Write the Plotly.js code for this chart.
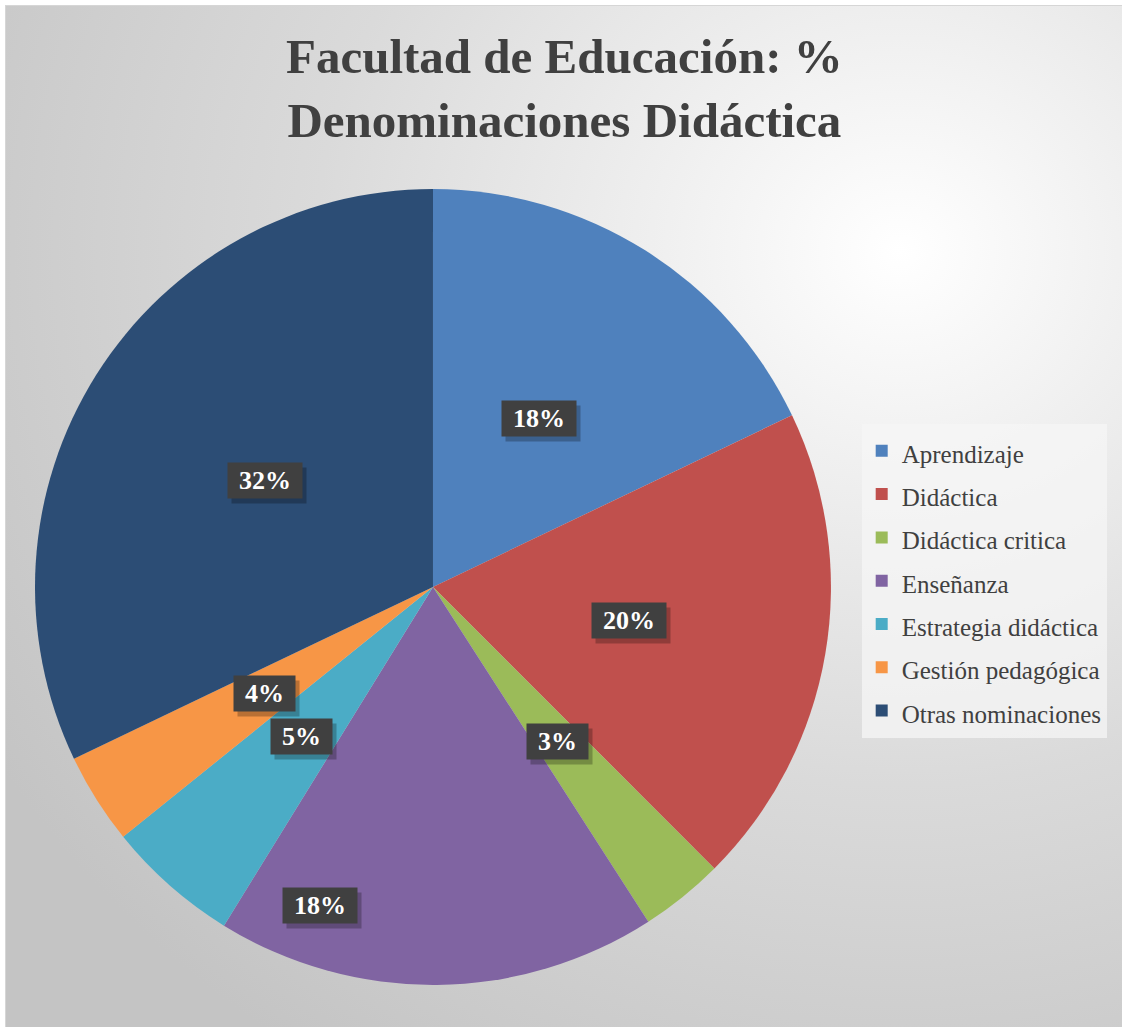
<!DOCTYPE html>
<html>
<head>
<meta charset="utf-8">
<script src="https://cdn.plot.ly/plotly-3.0.1.min.js"></script>
<style>
  html, body { margin: 0; padding: 0; background: #ffffff; }
  #bg {
    position: absolute; left: 5px; top: 5px; width: 1117px; height: 1022px;
    border-left: 1px solid #d6d6d6; border-top: 1px solid #d6d6d6;
    background: radial-gradient(ellipse 95% 95% at 80% 24%, #ffffff 0%, #f0f0f0 22%, #dadada 55%, #c4c4c4 100%);
  }
  #chart { position: absolute; left: 0; top: 0; width: 1122px; height: 1027px; }
</style>
</head>
<body>
<div id="bg"></div>
<div id="chart"></div>
<script>
// Data
const categories = ["Aprendizaje", "Didáctica", "Didáctica critica", "Enseñanza",
                    "Estrategia didáctica", "Gestión pedagógica", "Otras nominaciones"];
const values = [17.9, 19.6, 3.4, 17.9, 5.4, 3.7, 32.1];
const sliceColors = ["#4f81bd", "#c0504d", "#9bbb59", "#8064a2", "#4bacc6", "#f79646", "#2c4d75"];

// Label placement style (fraction along slice angle, fraction of radius); default mid / half radius
const labelPlacement = { "Enseñanza": { along: 0.81, radius: 0.85 } };

const W = 1122, H = 1027;
const domX = [0.0312, 0.7406];
const domY = [0.0409, 0.816];

const legendLabels = categories.map(c => "<span style='font-size:25px'>" + c + "</span>");

const trace = {
  type: "pie",
  labels: legendLabels,
  values: values,
  sort: false,
  direction: "clockwise",
  rotation: 0,
  marker: { colors: sliceColors, line: { width: 0 } },
  textinfo: "none",
  hoverinfo: "label+percent",
  domain: { x: domX, y: domY },
  showlegend: true
};

// Data labels placed along each slice (angles derived from values)
const total = values.reduce((a, b) => a + b, 0);
const cxPx = (domX[0] + domX[1]) / 2 * W;
const cyPx = (1 - (domY[0] + domY[1]) / 2) * H;
const R = Math.min((domX[1] - domX[0]) * W, (domY[1] - domY[0]) * H) / 2;
const annotations = [];
let cum = 0;
values.forEach((v, i) => {
  const pl = labelPlacement[categories[i]] || { along: 0.5, radius: 0.5 };
  const ang = (cum + v * pl.along) / total * 2 * Math.PI;
  cum += v;
  const px = cxPx + pl.radius * R * Math.sin(ang);
  const py = cyPx - pl.radius * R * Math.cos(ang);
  const txt = Math.round(v / total * 100) + "%";
  const common = {
    xref: "paper", yref: "paper", x: px / W, y: 1 - py / H,
    xanchor: "center", yanchor: "middle",
    showarrow: false, borderpad: 3, width: 13 * (txt.length - 1) + 42, height: 29,
    font: { family: "Liberation Serif, DejaVu Serif, serif", size: 26, weight: "bold" }
  };
  annotations.push(Object.assign({}, common, {
    text: " ", bgcolor: "rgba(0,0,0,0.25)", font: Object.assign({}, common.font, { color: "rgba(0,0,0,0)" }),
    xshift: 4, yshift: -5
  }));
  annotations.push(Object.assign({}, common, {
    text: txt, bgcolor: "#404040", font: Object.assign({}, common.font, { color: "#ffffff" })
  }));
});

const layout = {
  width: W, height: H,
  margin: { l: 0, r: 0, t: 0, b: 0 },
  paper_bgcolor: "rgba(0,0,0,0)",
  plot_bgcolor: "rgba(0,0,0,0)",
  title: {
    text: "Facultad de Educación: %<br>Denominaciones Didáctica",
    font: { family: "Liberation Serif, DejaVu Serif, serif", size: 49, weight: "bold", color: "#404040" },
    x: 0.503, xanchor: "center", y: 0.929, yanchor: "top", yref: "container"
  },
  legend: {
    x: 0.768, xanchor: "left", y: 0.587, yanchor: "top",
    bgcolor: "rgba(245,245,245,0.75)",
    font: { family: "Liberation Serif, DejaVu Serif, serif", size: 31, color: "#404040" },
    itemclick: false, itemdoubleclick: false
  },
  annotations: annotations,
  showlegend: true
};

Plotly.newPlot("chart", [trace], layout, { displayModeBar: false, staticPlot: true });
</script>
</body>
</html>
